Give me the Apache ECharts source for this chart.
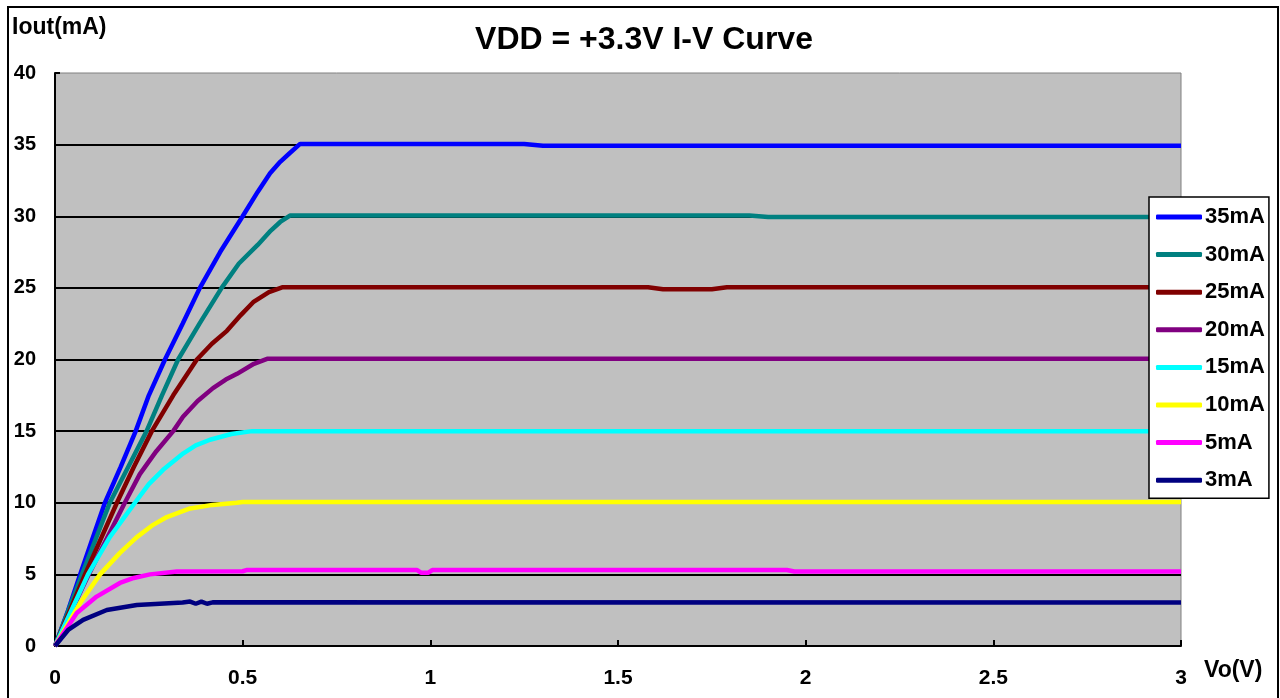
<!DOCTYPE html>
<html>
<head>
<meta charset="utf-8">
<script src="https://cdn.jsdelivr.net/npm/echarts@6/dist/echarts.min.js"></script>
<style>
html,body{margin:0;padding:0;background:#fff;}
#chart{width:1280px;height:698px;}
</style>
</head>
<body>
<div id="chart"></div>
<script>
// ---- data: [Vo (V), Iout (mA)] ----
const seriesNames = ['35mA','30mA','25mA','20mA','15mA','10mA','5mA','3mA'];
const seriesColors = ['#0000FF','#008080','#800000','#800080','#00FFFF','#FFFF00','#FF00FF','#000080'];

const s35 = [[0,0],[0.035,2.5],[0.067,5],[0.10,7.5],[0.133,10],[0.175,12.5],[0.215,15],[0.25,17.5],[0.293,20],[0.34,22.5],[0.386,25],[0.44,27.5],[0.50,30],[0.54,31.7],[0.573,33],[0.60,33.8],[0.625,34.4],[0.653,35.05],[1.25,35.05],[1.30,34.92],[3,34.92]];
const s30 = [[0,0],[0.072,5],[0.146,10],[0.195,12.5],[0.244,15],[0.285,17.5],[0.328,20],[0.385,22.5],[0.444,25],[0.49,26.7],[0.54,28],[0.575,29],[0.60,29.6],[0.626,30.05],[1.85,30.05],[1.90,29.95],[3,29.95]];
const s25 = [[0,0],[0.08,5],[0.165,10],[0.21,12.5],[0.258,15],[0.315,17.5],[0.378,20],[0.418,21.1],[0.458,22],[0.495,23.1],[0.528,24],[0.57,24.7],[0.607,25.05],[1.58,25.05],[1.62,24.9],[1.75,24.9],[1.79,25.05],[3,25.05]];
const s20 = [[0,0],[0.09,5],[0.186,10],[0.226,12],[0.27,13.6],[0.315,15],[0.341,16],[0.38,17.1],[0.421,18],[0.455,18.6],[0.485,19],[0.53,19.7],[0.565,20.05],[3,20.05]];
const s15 = [[0,0],[0.088,5],[0.146,7.6],[0.213,10],[0.25,11.3],[0.288,12.3],[0.342,13.45],[0.375,14.0],[0.413,14.4],[0.47,14.8],[0.525,15.0],[3,15.0]];
const s10 = [[0,0],[0.067,3],[0.12,5],[0.173,6.5],[0.218,7.6],[0.258,8.4],[0.298,9.0],[0.36,9.6],[0.42,9.85],[0.484,10.0],[0.50,10.05],[3,10.05]];
const s5  = [[0,0],[0.058,2.3],[0.111,3.45],[0.173,4.4],[0.21,4.75],[0.253,5.0],[0.325,5.2],[0.50,5.22],[0.51,5.3],[0.965,5.3],[0.975,5.12],[0.995,5.12],[1.005,5.3],[1.95,5.3],[1.97,5.2],[3,5.2]];
const s3  = [[0,0],[0.035,1.12],[0.075,1.82],[0.138,2.51],[0.218,2.86],[0.34,3.03],[0.36,3.1],[0.375,2.95],[0.39,3.1],[0.405,2.95],[0.42,3.05],[3,3.03]];
const seriesData = [s35,s30,s25,s20,s15,s10,s5,s3];

const xTickLabels = ['0','0.5','1','1.5','2','2.5','3'];
const yTickLabels = ['0','5','10','15','20','25','30','35','40'];
const xInterval = 0.5, yInterval = 5;

const titleText = 'VDD = +3.3V I-V Curve';
const yName = 'Iout(mA)';
const xName = 'Vo(V)';

const chart = echarts.init(document.getElementById('chart'), null, {renderer:'canvas'});
const FONT = '"Liberation Sans", Arial, sans-serif';

const option = {
  animation: false,
  backgroundColor: '#ffffff',
  title: {
    text: titleText, left: 639, top: 19, textAlign: 'center',
    textStyle: {fontFamily: FONT, fontWeight: 'bold', fontSize: 32, color: '#000'}
  },
  grid: {
    left: 55, right: 99, top: 73, bottom: 52,
    show: true, backgroundColor: '#C0C0C0', borderColor: '#808080', borderWidth: 1
  },
  legend: {
    orient: 'vertical', left: 1149, top: 197,
    data: seriesNames,
    icon: 'roundRect', itemWidth: 46, itemHeight: 5, itemGap: 15.6,
    padding: [9, 4, 7, 7],
    backgroundColor: '#ffffff', borderColor: '#000', borderWidth: 1.5,
    textStyle: {fontFamily: FONT, fontWeight: 'bold', fontSize: 22, color: '#000', lineHeight: 22, padding: [0,0,0,-2]}
  },
  xAxis: {
    type: 'value', min: 0, max: 3, interval: xInterval,
    axisLine: {show: true, onZero: false, lineStyle: {color: '#000', width: 2}},
    axisTick: {show: true, inside: true, length: 6, lineStyle: {color: '#000', width: 2}},
    axisLabel: {
      margin: 22, fontFamily: FONT, fontWeight: 'bold', fontSize: 21, color: '#000',
      formatter: v => xTickLabels[Math.round(v / xInterval)]
    },
    splitLine: {show: false}
  },
  yAxis: {
    type: 'value', min: 0, max: 40, interval: yInterval,
    axisLine: {show: true, lineStyle: {color: '#000', width: 2}},
    axisTick: {show: true, inside: true, length: 5, lineStyle: {color: '#000', width: 2}},
    axisLabel: {
      margin: 19, fontFamily: FONT, fontWeight: 'bold', fontSize: 20, color: '#000',
      formatter: v => yTickLabels[Math.round(v / yInterval)]
    },
    splitLine: {show: true, showMinLine: false, showMaxLine: false, lineStyle: {color: '#000', width: 2}}
  },
  graphic: [
    {type: 'rect', silent: true, z: 100, shape: {x: 8, y: 7, width: 1270, height: 710},
      style: {fill: 'none', stroke: '#000', lineWidth: 2}},
    {type: 'text', left: 12, top: 16, z: 100,
      style: {text: yName, fontFamily: FONT, fontWeight: 'bold', fontSize: 23, fill: '#000'}},
    {type: 'text', left: 1204, top: 659, z: 100,
      style: {text: xName, fontFamily: FONT, fontWeight: 'bold', fontSize: 23, fill: '#000'}}
  ],
  series: seriesNames.map((n, i) => ({
    name: n, type: 'line', data: seriesData[i],
    showSymbol: false, symbol: 'none', smooth: false,
    color: seriesColors[i],
    lineStyle: {color: seriesColors[i], width: 4.5},
    itemStyle: {color: seriesColors[i]}
  }))
};
chart.setOption(option);
</script>
</body>
</html>
